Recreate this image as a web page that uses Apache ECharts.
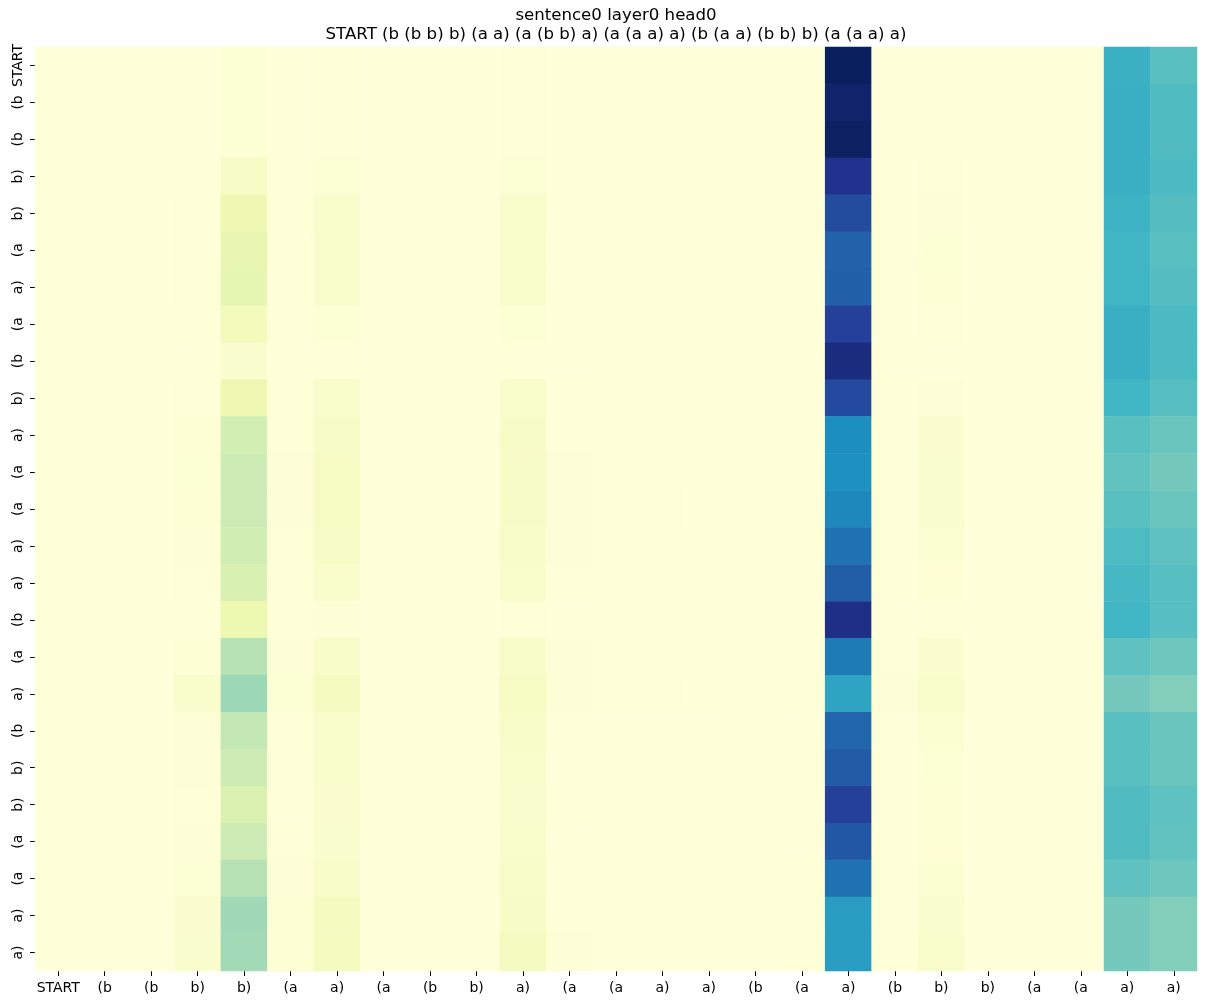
<!DOCTYPE html>
<html>
<head>
<meta charset="utf-8">
<script src="https://cdn.jsdelivr.net/npm/echarts@6/dist/echarts.min.js"></script>
<style>
html,body{margin:0;padding:0;background:#fff;}
#chart{width:1206px;height:1001px;}
</style>
</head>
<body>
<div id="chart"></div>
<script>
const titleLines = ["sentence0 layer0 head0", "START (b (b b) b) (a a) (a (b b) a) (a (a a) a) (b (a a) (b b) b) (a (a a) a)"];
const xTokens = ["START","(b","(b","b)","b)","(a","a)","(a","(b","b)","a)","(a","(a","a)","a)","(b","(a","a)","(b","b)","b)","(a","(a","a)","a)"];
const yTokens = ["START","(b","(b","b)","b)","(a","a)","(a","(b","b)","a)","(a","(a","a)","a)","(b","(a","a)","(b","b)","b)","(a","(a","a)","a)"];
const colorStops = ["#ffffd9","#edf8b1","#c7e9b4","#7fcdbb","#41b6c4","#1d91c0","#225ea8","#253494","#081d58"];

// attention weights (normalised 0..1), one array per query row
const weights = [
 [0,0,0,0,0.02,0,0.008,0,0,0,0.006,0,0,0,0,0,0,0.99,0,0,0,0,0,0.52,0.45],
 [0,0,0,0,0.018,0,0.008,0,0,0,0.006,0,0,0,0,0,0,0.96,0,0,0,0,0,0.525,0.47],
 [0,0,0,0,0.018,0,0.008,0,0,0,0.006,0,0,0,0,0,0,0.98,0,0,0,0,0,0.525,0.47],
 [0,0,0,0.002,0.06,0,0.02,0,0,0,0.02,0,0,0,0,0,0,0.89,0,0.005,0,0,0,0.525,0.48],
 [0,0,0,0.006,0.12,0.005,0.04,0,0,0,0.045,0.003,0,0,0,0,0,0.805,0.003,0.01,0,0,0,0.51,0.46],
 [0,0,0,0.006,0.14,0.003,0.045,0,0,0,0.045,0.008,0,0,0,0,0,0.74,0.003,0.02,0,0,0,0.50,0.45],
 [0,0,0,0.006,0.15,0.003,0.045,0,0,0,0.045,0.005,0,0,0,0,0,0.745,0.003,0.015,0,0,0,0.505,0.46],
 [0,0,0,0.002,0.09,0,0.02,0,0,0,0.02,0,0,0,0,0,0,0.84,0,0.005,0,0,0,0.525,0.48],
 [0,0,0,0,0.035,0,0.003,0,0,0,0.003,0,0,0,0,0,0,0.92,0,0,0,0,0,0.525,0.48],
 [0,0,0,0.006,0.12,0.005,0.04,0,0,0,0.04,0.003,0,0,0,0,0,0.81,0.002,0.01,0,0,0,0.50,0.455],
 [0,0,0,0.015,0.21,0.008,0.06,0,0,0,0.055,0.008,0,0.002,0,0,0.003,0.63,0.006,0.03,0,0,0,0.45,0.42],
 [0,0,0,0.02,0.23,0.01,0.065,0,0,0,0.06,0.012,0,0.003,0,0,0.003,0.625,0.008,0.035,0,0,0,0.435,0.395],
 [0,0,0,0.015,0.23,0.01,0.065,0,0,0,0.06,0.01,0.003,0.005,0,0,0.002,0.65,0.007,0.035,0,0,0,0.45,0.42],
 [0,0,0,0.012,0.22,0.008,0.06,0,0,0,0.05,0.01,0,0.002,0,0,0.002,0.70,0.005,0.025,0,0,0,0.475,0.44],
 [0,0,0,0.008,0.19,0.005,0.045,0,0,0,0.04,0.005,0,0,0,0,0,0.75,0.003,0.015,0,0,0,0.49,0.455],
 [0,0,0,0.003,0.125,0.002,0.01,0,0,0,0.005,0,0,0,0,0,0,0.90,0,0.003,0,0,0,0.50,0.455],
 [0,0,0,0.015,0.28,0.012,0.05,0,0,0,0.05,0.01,0,0,0,0,0.003,0.68,0.006,0.03,0,0,0,0.44,0.41],
 [0,0,0,0.045,0.325,0.02,0.075,0,0,0,0.065,0.012,0.005,0.005,0.003,0,0.006,0.565,0.01,0.045,0,0,0,0.395,0.37],
 [0,0,0,0.01,0.255,0.005,0.045,0,0,0,0.05,0.005,0,0,0,0,0,0.73,0.004,0.025,0,0,0,0.45,0.42],
 [0,0,0,0.01,0.23,0.004,0.04,0,0,0,0.045,0.004,0,0,0,0,0,0.76,0.003,0.02,0,0,0,0.45,0.42],
 [0,0,0,0.008,0.185,0.004,0.03,0,0,0,0.035,0.003,0,0,0,0,0,0.84,0.002,0.015,0,0,0,0.47,0.44],
 [0,0,0,0.01,0.23,0.005,0.035,0,0,0,0.04,0.004,0,0,0,0,0,0.77,0.003,0.015,0,0,0,0.47,0.435],
 [0,0,0,0.02,0.28,0.01,0.05,0,0,0,0.05,0.008,0,0,0,0,0.003,0.70,0.005,0.025,0,0,0,0.44,0.41],
 [0,0,0,0.03,0.32,0.015,0.075,0,0,0,0.06,0.008,0,0,0,0,0.005,0.585,0.008,0.035,0,0,0,0.395,0.37],
 [0,0,0,0.035,0.315,0.015,0.08,0,0,0,0.075,0.01,0,0,0,0,0.006,0.585,0.008,0.045,0,0,0,0.395,0.37]
];

const cells = [];
weights.forEach((row, r) => row.forEach((v, c) => cells.push([c, r, v])));

const chart = echarts.init(document.getElementById('chart'), null, {renderer: 'canvas'});
const font = 'DejaVu Sans';
chart.setOption({
  backgroundColor: '#ffffff',
  animation: false,
  graphic: [
    {type: 'text', left: null, x: 616, y: 15.5, style: {text: titleLines[0], fontFamily: font, fontSize: 16.6, fill: '#000', textAlign: 'center', textVerticalAlign: 'middle'}},
    {type: 'text', x: 616, y: 35, style: {text: titleLines[1], fontFamily: font, fontSize: 16.6, fill: '#000', textAlign: 'center', textVerticalAlign: 'middle'}}
  ],
  grid: {left: 35, top: 47, right: 9, bottom: 30, containLabel: false},
  xAxis: {
    type: 'category',
    data: xTokens,
    axisLine: {show: false},
    axisTick: {show: true, alignWithLabel: true, length: 5, lineStyle: {color: '#000', width: 1}},
    axisLabel: {fontFamily: font, fontSize: 14, color: '#000', margin: 10, interval: 0},
    splitLine: {show: false}
  },
  yAxis: {
    type: 'category',
    data: yTokens,
    inverse: true,
    axisLine: {show: false},
    axisTick: {show: true, alignWithLabel: true, length: 5, lineStyle: {color: '#000', width: 1}},
    axisLabel: {fontFamily: font, fontSize: 14, color: '#000', margin: 10, rotate: 90, interval: 0},
    splitLine: {show: false}
  },
  visualMap: {
    show: false,
    type: 'continuous',
    min: 0,
    max: 1,
    dimension: 2,
    inRange: {color: colorStops}
  },
  series: [{
    type: 'heatmap',
    data: cells,
    itemStyle: {borderWidth: 0},
    emphasis: {disabled: true}
  }]
});
</script>
</body>
</html>
